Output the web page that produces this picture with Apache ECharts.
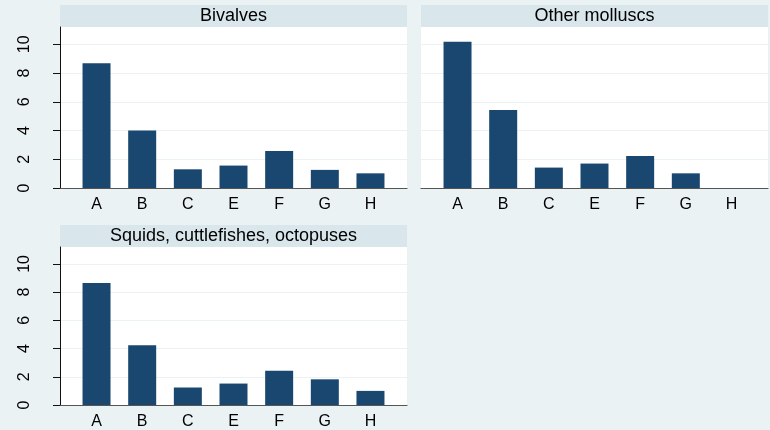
<!DOCTYPE html>
<html>
<head>
<meta charset="utf-8">
<script src="https://cdn.jsdelivr.net/npm/echarts@6/dist/echarts.min.js"></script>
<style>
  html, body { margin: 0; padding: 0; background: #EAF2F3; }
  #chart { width: 770px; height: 430px; }
</style>
</head>
<body>
<div id="chart"></div>
<script>
const categories = ['A', 'B', 'C', 'E', 'F', 'G', 'H'];
const panelTitles = ['Bivalves', 'Other molluscs', 'Squids, cuttlefishes, octopuses'];
const bivalves = [8.67, 4.0, 1.3, 1.56, 2.58, 1.26, 1.02];
const otherMolluscs = [10.17, 5.42, 1.42, 1.7, 2.23, 1.02, 0];
const squids = [8.65, 4.24, 1.24, 1.52, 2.43, 1.82, 1.0];
const yTicks = [0, 2, 4, 6, 8, 10];

const seriesValues = [bivalves, otherMolluscs, squids];
const panels = [
  { left: 60, top: 27, showY: true },
  { left: 421, top: 27, showY: false },
  { left: 60, top: 247, showY: true }
];
const PW = 347, PH = 161, STRIP = 22;
const catIdx = categories.map((c, i) => i);

const chart = echarts.init(document.getElementById('chart'), null, { renderer: 'canvas' });

const grids = [], xAxes = [], yAxes = [], series = [], graphics = [];
panels.forEach((p, k) => {
  grids.push({ left: p.left, top: p.top, width: PW, height: PH, show: true, backgroundColor: '#FFFFFF', borderWidth: 0 });
  xAxes.push({
    type: 'value', gridIndex: k, min: -0.8, max: 6.8,
    axisLine: { show: true, onZero: false, lineStyle: { color: '#555555', width: 1.2 } },
    axisTick: { show: false },
    splitLine: { show: false },
    axisLabel: {
      customValues: catIdx, formatter: v => categories[Math.round(v)],
      color: '#000', fontFamily: 'Liberation Sans, Arial, sans-serif', fontSize: 16, margin: 9
    }
  });
  yAxes.push({
    type: 'value', gridIndex: k, min: 0, max: 11.2, interval: 2,
    axisLine: { show: p.showY, onZero: false, lineStyle: { color: '#111111', width: 1 } },
    axisTick: { show: p.showY, length: 7, customValues: yTicks, lineStyle: { color: '#111111' } },
    axisLabel: {
      show: p.showY, customValues: yTicks, rotate: 90,
      color: '#000', fontFamily: 'Liberation Sans, Arial, sans-serif', fontSize: 16, margin: 27
    },
    splitLine: { show: true, lineStyle: { color: '#EAF2F3', width: 1.2 } }
  });
  series.push({
    type: 'bar', xAxisIndex: k, yAxisIndex: k, barWidth: 28,
    itemStyle: { color: '#1A476F' },
    data: seriesValues[k].map((v, i) => [i, v])
  });
  graphics.push({
    type: 'rect', shape: { x: p.left, y: p.top - STRIP, width: PW, height: STRIP },
    style: { fill: '#D9E6EB' }, silent: true
  });
  graphics.push({
    type: 'text', x: p.left + PW / 2, y: p.top - STRIP / 2,
    style: { text: panelTitles[k], fill: '#000', font: '18px "Liberation Sans", Arial, sans-serif', textAlign: 'center', textVerticalAlign: 'middle' },
    silent: true
  });
});

chart.setOption({
  backgroundColor: '#EAF2F3',
  animation: false,
  grid: grids,
  xAxis: xAxes,
  yAxis: yAxes,
  series: series,
  graphic: graphics
});
</script>
</body>
</html>
